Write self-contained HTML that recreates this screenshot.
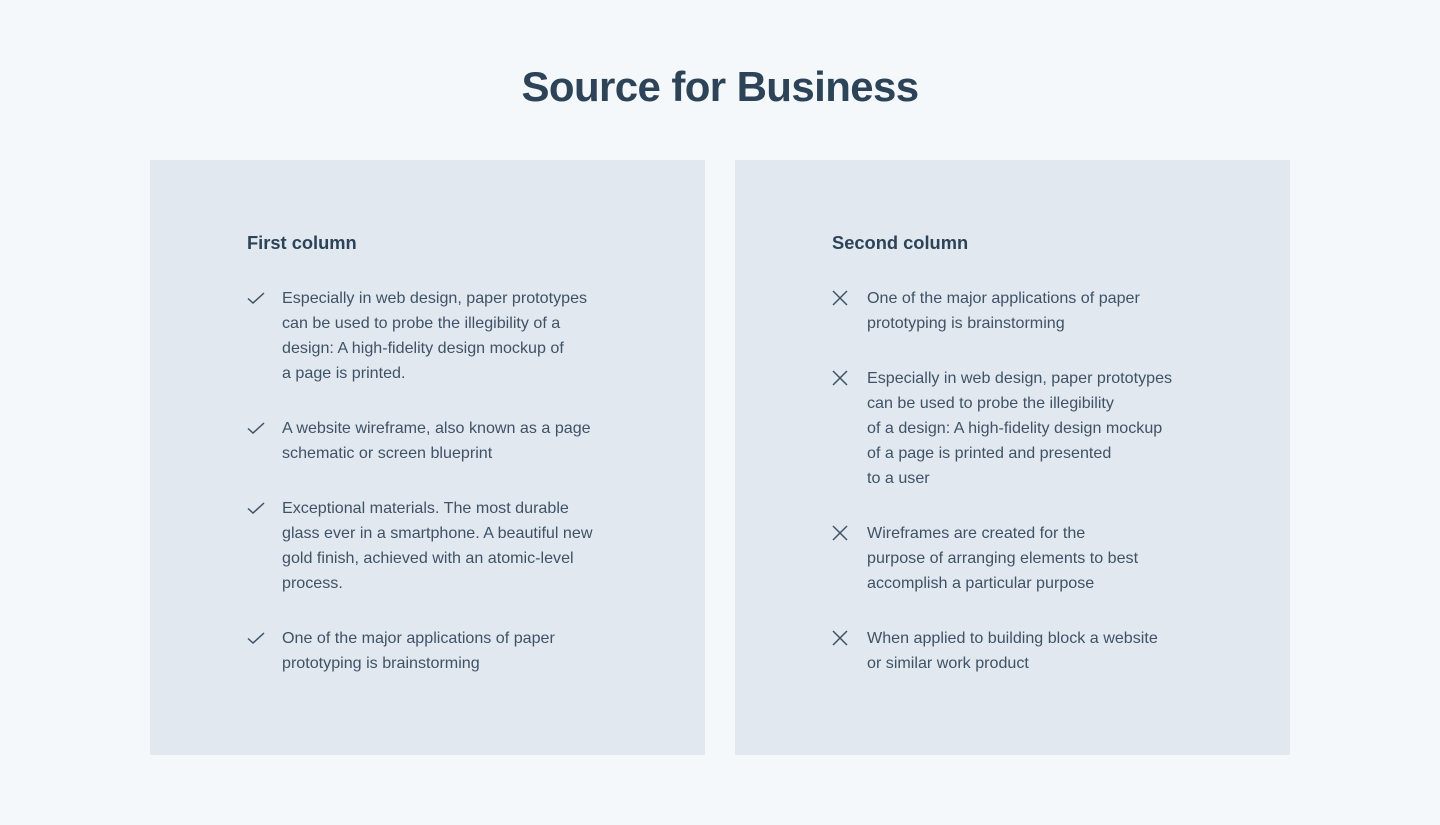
<!DOCTYPE html>
<html><head><meta charset="utf-8"><style>
*{margin:0;padding:0;box-sizing:border-box}
body{width:1440px;height:825px;background:#f4f8fb;font-family:"Liberation Sans",sans-serif;position:relative;overflow:hidden}
h1{position:absolute;top:60px;left:0;width:1440px;text-align:center;font-size:42px;font-weight:bold;color:#2c4358;letter-spacing:-0.6px;line-height:54px}
.card{position:absolute;top:160px;width:555px;height:595px;background:#e1e8f0}
.card h2{position:absolute;left:97px;top:72px;font-size:18.3px;font-weight:bold;color:#2c4358;line-height:22px}
.item{position:absolute;left:132px;font-size:16.1px;line-height:25px;color:#3f5266;white-space:nowrap}
.item svg{position:absolute;left:-35px;top:5px}
</style></head><body>
<h1>Source for Business</h1>
<div class="card" style="left:150px">
<h2>First column</h2>
<div class="item" style="top:126px"><svg width="18" height="14" viewBox="0 0 18 14"><path d="M1 7.5 L6 12 L17 2" fill="none" stroke="#3f5266" stroke-width="1.5"/></svg>Especially in web design, paper prototypes<br>can be used to probe the illegibility of a<br>design: A high-fidelity design mockup of<br>a page is printed.</div>
<div class="item" style="top:256px"><svg width="18" height="14" viewBox="0 0 18 14"><path d="M1 7.5 L6 12 L17 2" fill="none" stroke="#3f5266" stroke-width="1.5"/></svg>A website wireframe, also known as a page<br>schematic or screen blueprint</div>
<div class="item" style="top:336px"><svg width="18" height="14" viewBox="0 0 18 14"><path d="M1 7.5 L6 12 L17 2" fill="none" stroke="#3f5266" stroke-width="1.5"/></svg>Exceptional materials. The most durable<br>glass ever in a smartphone. A beautiful new<br>gold finish, achieved with an atomic-level<br>process.</div>
<div class="item" style="top:466px"><svg width="18" height="14" viewBox="0 0 18 14"><path d="M1 7.5 L6 12 L17 2" fill="none" stroke="#3f5266" stroke-width="1.5"/></svg>One of the major applications of paper<br>prototyping is brainstorming</div>
</div>
<div class="card" style="left:735px">
<h2>Second column</h2>
<div class="item" style="top:126px"><svg width="16" height="16" viewBox="0 0 16 16" style="top:4px"><path d="M1 1 L15 15 M15 1 L1 15" fill="none" stroke="#3f5266" stroke-width="1.5"/></svg>One of the major applications of paper<br>prototyping is brainstorming</div>
<div class="item" style="top:206px"><svg width="16" height="16" viewBox="0 0 16 16" style="top:4px"><path d="M1 1 L15 15 M15 1 L1 15" fill="none" stroke="#3f5266" stroke-width="1.5"/></svg>Especially in web design, paper prototypes<br>can be used to probe the illegibility<br>of a design: A high-fidelity design mockup<br>of a page is printed and presented<br>to a user</div>
<div class="item" style="top:361px"><svg width="16" height="16" viewBox="0 0 16 16" style="top:4px"><path d="M1 1 L15 15 M15 1 L1 15" fill="none" stroke="#3f5266" stroke-width="1.5"/></svg>Wireframes are created for the<br>purpose of arranging elements to best<br>accomplish a particular purpose</div>
<div class="item" style="top:466px"><svg width="16" height="16" viewBox="0 0 16 16" style="top:4px"><path d="M1 1 L15 15 M15 1 L1 15" fill="none" stroke="#3f5266" stroke-width="1.5"/></svg>When applied to building block a website<br>or similar work product</div>
</div>
</body></html>
